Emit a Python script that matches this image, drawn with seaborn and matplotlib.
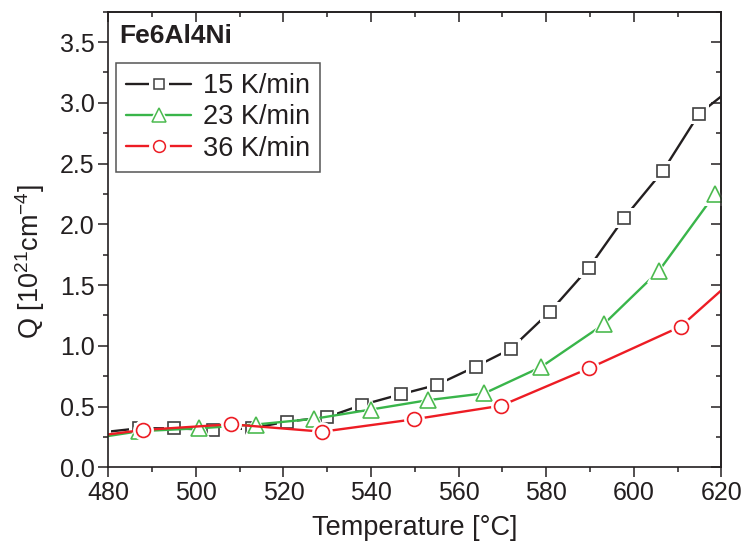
import matplotlib
matplotlib.use("Agg")
import matplotlib.pyplot as plt
import pandas as pd
import seaborn as sns
from matplotlib.lines import Line2D
from matplotlib.legend_handler import HandlerTuple
from matplotlib.ticker import MultipleLocator, FormatStrFormatter

# Integrated scattering Q of Fe6Al4Ni vs. temperature for three heating rates
temp_15 = [478.4, 487.0, 495.0, 504.0, 512.9, 520.7, 529.9, 537.9, 546.8, 555.0,
           563.9, 571.9, 580.9, 589.8, 597.8, 606.7, 614.9, 623.4]
q_15 = [0.287, 0.321, 0.321, 0.307, 0.321, 0.376, 0.412, 0.513, 0.601, 0.678,
        0.829, 0.974, 1.282, 1.644, 2.051, 2.441, 2.908, 3.15]

temp_23 = [474.3, 487.1, 500.8, 513.7, 527.0, 539.9, 552.9, 565.9, 578.8, 593.1,
           605.8, 618.5]
q_23 = [0.226, 0.297, 0.321, 0.352, 0.399, 0.475, 0.552, 0.609, 0.825, 1.176,
        1.619, 2.247]

temp_36 = [467.9, 487.9, 508.0, 528.9, 549.8, 569.7, 589.8, 610.7, 630.7]
q_36 = [0.215, 0.307, 0.354, 0.293, 0.395, 0.507, 0.815, 1.158, 1.80]

rate_labels = ["15 K/min", "23 K/min", "36 K/min"]
line_colors = ["#231f20", "#39b54a", "#ed1c24"]
edge_colors = ["#404040", "#4cba4f", "#ed1c24"]
marker_shapes = ["s", "^", "o"]
marker_sizes = [9, 12, 10]

sns.set_style("ticks")
plt.rcParams["font.family"] = ["Liberation Sans", "DejaVu Sans"]
plt.rcParams["mathtext.fontset"] = "custom"
plt.rcParams["mathtext.rm"] = "Liberation Sans"
plt.rcParams["mathtext.it"] = "Liberation Sans:italic"
plt.rcParams["mathtext.bf"] = "Liberation Sans:bold"
text_color = "#231f20"

fig = plt.figure(figsize=(7.42, 5.53), dpi=100)
ax = fig.add_axes([0.1460, 0.1550, 0.8261, 0.8239])

series = [(temp_15, q_15), (temp_23, q_23), (temp_36, q_36)]
handles = []
for (t, q), lab, lc, ec, mk, ms in zip(series, rate_labels, line_colors,
                                        edge_colors, marker_shapes, marker_sizes):
    df = pd.DataFrame({"T": t, "Q": q})
    sns.lineplot(data=df, x="T", y="Q", ax=ax, color=lc, linewidth=1.7,
                 errorbar=None, sort=False)
    # white halo keeps a small gap between the line and each symbol
    sns.lineplot(data=df, x="T", y="Q", ax=ax, color="white", linestyle="none",
                 marker=mk, markersize=ms + 5, markerfacecolor="white",
                 markeredgecolor="white", markeredgewidth=0,
                 errorbar=None, sort=False)
    sns.lineplot(data=df, x="T", y="Q", ax=ax, color=lc, linestyle="none",
                 marker=mk, markersize=ms, markerfacecolor="white",
                 markeredgecolor=ec, markeredgewidth=1.2,
                 errorbar=None, sort=False)
    handles.append((
        Line2D([], [], color=lc, linewidth=1.7),
        Line2D([], [], linestyle="none", marker=mk, markersize=ms + 5,
               markerfacecolor="white", markeredgewidth=0),
        Line2D([], [], linestyle="none", marker=mk, markersize=ms * 0.85,
               markerfacecolor="white", markeredgecolor=ec, markeredgewidth=1.1),
    ))

ax.set_xlim(480, 620)
ax.set_ylim(0, 3.75)
ax.xaxis.set_major_locator(MultipleLocator(20))
ax.xaxis.set_minor_locator(MultipleLocator(10))
ax.yaxis.set_major_locator(MultipleLocator(0.5))
ax.yaxis.set_minor_locator(MultipleLocator(0.25))
ax.yaxis.set_major_formatter(FormatStrFormatter("%.1f"))

for sp in ax.spines.values():
    sp.set_visible(True)
    sp.set_linewidth(1.2)
    sp.set_color(text_color)

ax.tick_params(which="major", direction="out", length=7, width=1.1,
               labelsize=18, color=text_color, labelcolor=text_color, pad=3)
ax.tick_params(which="minor", direction="out", length=3.5, width=1.1,
               color=text_color)

# mirrored ticks on the top and right edges point into the frame
secx = ax.secondary_xaxis("top")
secx.xaxis.set_major_locator(MultipleLocator(20))
secx.xaxis.set_minor_locator(MultipleLocator(10))
secx.tick_params(which="major", direction="in", length=7, width=1.1,
                 labeltop=False, color=text_color)
secx.tick_params(which="minor", direction="in", length=3.5, width=1.1,
                 color=text_color)
secx.spines["top"].set_linewidth(1.2)
secy = ax.secondary_yaxis("right")
secy.yaxis.set_major_locator(MultipleLocator(0.5))
secy.yaxis.set_minor_locator(MultipleLocator(0.25))
secy.tick_params(which="major", direction="in", length=7, width=1.1,
                 labelright=False, color=text_color)
secy.tick_params(which="minor", direction="in", length=3.5, width=1.1,
                 color=text_color)
secy.spines["right"].set_linewidth(1.2)

ax.set_xlabel("Temperature [°C]", fontsize=19.5, color=text_color, labelpad=7)
ax.set_ylabel(r"Q [10$^{21}$cm$^{-4}$]", fontsize=19.5, color=text_color)
ax.yaxis.set_label_coords(-0.1005, 0.4506)

ax.text(0.0175, 0.946, "Fe6Al4Ni", transform=ax.transAxes, fontsize=19,
        fontweight="bold", ha="left", va="center", color=text_color)

leg = ax.legend(handles, rate_labels, handler_map={tuple: HandlerTuple(ndivide=1)},
                loc="upper left", bbox_to_anchor=(0.0126, 0.888), borderaxespad=0,
                fontsize=19.5, frameon=True, fancybox=False, framealpha=1,
                edgecolor="#555555", handlelength=2.4, handletextpad=0.42,
                labelspacing=0.2, borderpad=0.38, numpoints=1)
leg.get_frame().set_linewidth(1.1)
for txt in leg.get_texts():
    txt.set_color(text_color)

fig.savefig("out.png", dpi=100)
